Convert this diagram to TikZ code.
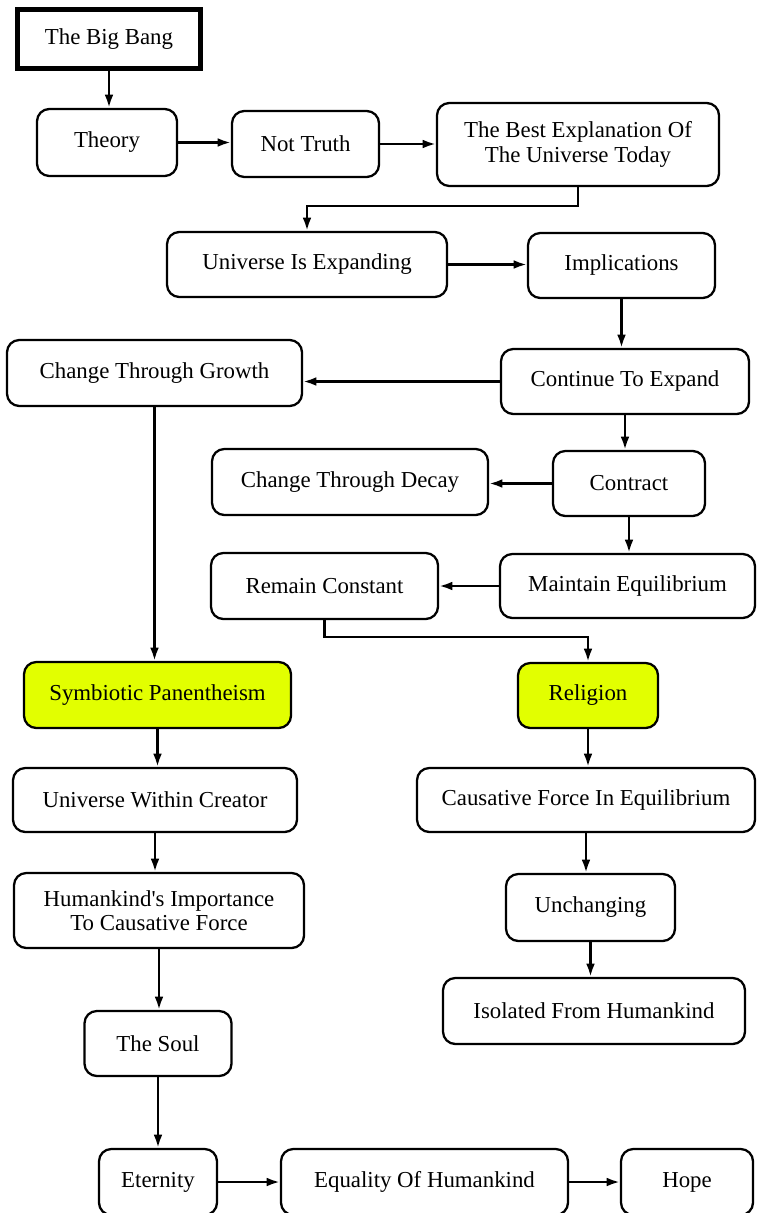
\documentclass[tikz,border=0pt]{standalone}
\usepackage{fontspec}
\setmainfont{Liberation Serif}
\usepackage{tikz}
\usetikzlibrary{arrows.meta}
\definecolor{Ink}{HTML}{000000}
\definecolor{Lime}{HTML}{E2FF00}

\begin{document}
\begin{tikzpicture}[x=0.02cm,y=-0.02cm,
  box/.style={draw=Ink,rounded corners=7pt,line width=1.3pt,align=center,inner sep=2pt,
    font=\fontsize{13}{14}\selectfont},
  link/.style={draw=Ink,line width=1.4pt,-{Latex[length=7.5pt,width=5pt]}}]
  \useasboundingbox (0,0) rectangle (757,1213);
  % boxes: name/x/y/width/height/text
  \foreach \nm/\cx/\cy/\w/\h/\txt in {
    theory/107/142.5/140/67/{Theory},
    nottruth/305.5/144/147/66/{Not Truth},
    best/578/144.5/282/83/{The Best Explanation Of\\The Universe Today},
    expanding/307/264.5/280/65/{Universe Is Expanding},
    implic/621.5/265.5/187/65/{Implications},
    growth/154.5/373/295/66/{Change Through Growth},
    continue/625/381.5/248/65/{Continue To Expand},
    decay/350/482/276/66/{Change Through Decay},
    contract/629/483.5/152/65/{Contract},
    remain/324.5/586/227/66/{Remain Constant},
    maintain/627.5/586/255/64/{Maintain Equilibrium},
    creator/155/800/284/64/{Universe Within Creator},
    causative/586/800/338/64/{Causative Force In Equilibrium},
    importance/159/910.5/290/75/{Humankind\textquotesingle s Importance\\To Causative Force},
    unchanging/590.5/907.5/169/67/{Unchanging},
    soul/158/1043.5/147/65/{The Soul},
    isolated/594/1011/302/66/{Isolated From Humankind},
    eternity/158/1182/118/66/{Eternity},
    equality/424.5/1182/287/66/{Equality Of Humankind},
    hope/687/1182/132/66/{Hope}} {
    \node[box,minimum width=\w*0.02cm,minimum height=\h*0.02cm] (\nm) at (\cx,\cy) {\txt};
  }
  \node[box,rounded corners=0pt,line width=2.8pt,minimum width=183*0.02cm,minimum height=59*0.02cm]
    (bigbang) at (109,39) {The Big Bang};
  \node[box,fill=Lime,minimum width=267*0.02cm,minimum height=66*0.02cm]
    (symbiotic) at (157.5,695) {Symbiotic Panentheism};
  \node[box,fill=Lime,minimum width=140*0.02cm,minimum height=65*0.02cm]
    (religion) at (588,695.5) {Religion};

  % straight down
  \foreach \a/\b in {bigbang/theory,implic/continue,growth/symbiotic,continue/contract,
    contract/maintain,symbiotic/creator,religion/causative,creator/importance,
    causative/unchanging,importance/soul,unchanging/isolated,soul/eternity}
    \draw[link] (\a.south) -- (\a.south |- \b.north);
  % to the right
  \foreach \a/\b in {theory/nottruth,nottruth/best,expanding/implic,eternity/equality,equality/hope}
    \draw[link] (\a.east) -- (\b.west |- \a.east);
  % to the left
  \foreach \a/\b in {continue/growth,contract/decay,maintain/remain}
    \draw[link] (\a.west) -- (\b.east |- \a.west);
  % elbows
  \draw[link] (best.south) -- ++(0,19) -| (expanding.north);
  \draw[link] (remain.south) -- ++(0,17) -| (religion.north);
\end{tikzpicture}
\end{document}
